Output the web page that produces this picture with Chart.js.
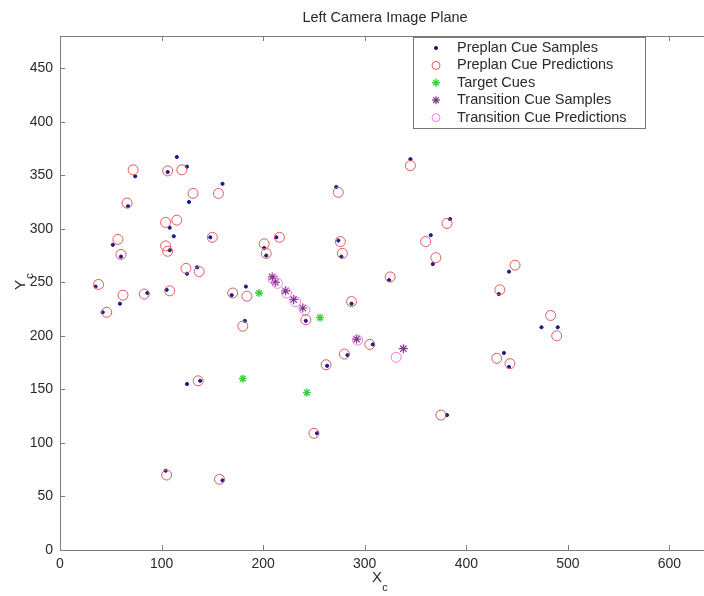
<!DOCTYPE html>
<html>
<head>
<meta charset="utf-8">
<script src="https://cdn.jsdelivr.net/npm/chart.js@4"></script>
<style>
  html, body { margin: 0; padding: 0; background: #fff; }
  #wrap { width: 704px; height: 596px; }
</style>
</head>
<body>
<div id="wrap"><canvas id="plane" width="704" height="596"></canvas></div>
<script>
// values (image plane coordinates, pixels)
var chartTitle = "Left Camera Image Plane";
var seriesNames = ["Preplan Cue Samples", "Preplan Cue Predictions", "Target Cues",
                   "Transition Cue Samples", "Transition Cue Predictions"];
var xTicks = [0, 100, 200, 300, 400, 500, 600];
var yTicks = [0, 50, 100, 150, 200, 250, 300, 350, 400, 450];

var preplanSamples = [
  [74, 349], [115, 367], [125, 358], [106, 353], [127, 325], [160, 342], [67, 321],
  [108, 301], [112, 293], [148, 292], [52, 285], [60, 274], [108, 280], [125, 258],
  [135, 264], [35, 246], [59, 230], [86, 240], [105, 243], [42, 222], [169, 238],
  [183, 246], [213, 292], [201, 282], [203, 275], [274, 289], [277, 274], [324, 252],
  [182, 214], [242, 214], [287, 230], [308, 192], [283, 182], [263, 172], [125, 155],
  [138, 158], [345, 365], [272, 339], [384, 309], [365, 294], [367, 267], [442, 260],
  [432, 239], [474, 208], [490, 208], [437, 184], [442, 171], [381, 126], [253, 109],
  [104, 74], [160, 65]
];
var preplanPredictions = [
  [72, 355], [106, 354], [120, 355], [131, 333], [156, 333], [66, 324], [104, 306],
  [115, 308], [150, 292], [57, 290], [60, 276], [104, 284], [106, 279], [124, 263],
  [137, 260], [38, 248], [62, 238], [83, 239], [108, 242], [46, 222], [170, 240],
  [184, 237], [216, 292], [201, 286], [203, 277], [276, 288], [278, 277], [325, 255],
  [180, 209], [242, 215], [287, 232], [305, 192], [280, 183], [262, 173], [136, 158],
  [345, 359], [274, 334], [381, 305], [360, 288], [370, 273], [448, 266], [433, 243],
  [483, 219], [489, 200], [430, 179], [443, 174], [375, 126], [250, 109], [105, 70],
  [157, 66]
];
var targetCues = [[196, 240], [256, 217], [180, 160], [243, 147]];
var transitionSamples = [
  [209, 255], [212, 250], [222, 242], [230, 234], [239, 226], [292, 197], [338, 188]
];
var transitionPredictions = [
  [210, 253], [214, 249], [223, 240], [232, 232], [241, 224], [293, 196], [331, 180]
];

function toPoints(list) {
  return list.map(function (p) { return { x: p[0], y: p[1] }; });
}

var FONT = "'Liberation Sans', Arial, sans-serif";

var seriesStyle = [
  { style: "circle", r: 1.6, fill: "#1c1c86", stroke: "#1c1c86", w: 1 },
  { style: "circle", r: 5, fill: "rgba(0,0,0,0)", stroke: "#e2585a", w: 1 },
  { style: "star", r: 4, fill: "#3ccf3c", stroke: "#3ccf3c", w: 1.4 },
  { style: "star", r: 4.5, fill: "#7d3b86", stroke: "#7d3b86", w: 1.2 },
  { style: "circle", r: 5, fill: "rgba(0,0,0,0)", stroke: "#ec7bec", w: 1 }
];

var allSeries = [preplanSamples, preplanPredictions, targetCues, transitionSamples, transitionPredictions];
var drawOrder = [1, 4, 0, 2, 3];

var datasets = drawOrder.map(function (i) {
  var s = seriesStyle[i];
  return {
    label: seriesNames[i],
    data: toPoints(allSeries[i]),
    pointStyle: s.style,
    pointRadius: s.r,
    pointHoverRadius: s.r,
    pointBackgroundColor: s.fill,
    pointBorderColor: s.stroke,
    pointBorderWidth: s.w,
    showLine: false
  };
});

function drawMarker(ctx, s, x, y) {
  ctx.save();
  ctx.strokeStyle = s.stroke;
  ctx.fillStyle = s.fill;
  ctx.lineWidth = s.w;
  ctx.beginPath();
  if (s.style === "circle") {
    ctx.arc(x, y, s.r, 0, Math.PI * 2);
    ctx.fill();
    ctx.stroke();
  } else {
    var r = s.r, d = r * Math.SQRT1_2;
    ctx.moveTo(x - r, y); ctx.lineTo(x + r, y);
    ctx.moveTo(x, y - r); ctx.lineTo(x, y + r);
    ctx.moveTo(x - d, y - d); ctx.lineTo(x + d, y + d);
    ctx.moveTo(x - d, y + d); ctx.lineTo(x + d, y - d);
    ctx.stroke();
  }
  ctx.restore();
}

var decorations = {
  id: "decorations",
  afterDraw: function (chart) {
    var ctx = chart.ctx, a = chart.chartArea;
    var xs = chart.scales.x, ys = chart.scales.y;
    ctx.save();

    // frame and inward ticks
    ctx.strokeStyle = "#7c7c7c";
    ctx.lineWidth = 1;
    ctx.beginPath();
    ctx.moveTo(a.left + 0.5, a.bottom + 0.5);
    ctx.lineTo(a.left + 0.5, a.top + 0.5);
    ctx.lineTo(a.right, a.top + 0.5);
    ctx.moveTo(a.left, a.bottom + 0.5);
    ctx.lineTo(a.right, a.bottom + 0.5);
    xTicks.forEach(function (v) {
      var px = Math.round(xs.getPixelForValue(v)) + 0.5;
      ctx.moveTo(px, a.bottom); ctx.lineTo(px, a.bottom - 5);
      ctx.moveTo(px, a.top); ctx.lineTo(px, a.top + 5);
    });
    yTicks.forEach(function (v) {
      var py = Math.round(ys.getPixelForValue(v)) + 0.5;
      ctx.moveTo(a.left, py); ctx.lineTo(a.left + 5, py);
    });
    ctx.stroke();

    // title
    ctx.fillStyle = "#2a2a2a";
    ctx.textAlign = "center";
    ctx.textBaseline = "middle";
    ctx.font = "14.5px " + FONT;
    ctx.fillText(chartTitle, 385, 18);

    // axis labels with subscript c
    ctx.font = "15px " + FONT;
    ctx.fillText("X", 377, 578);
    ctx.font = "11px " + FONT;
    ctx.fillText("c", 385, 588);

    ctx.save();
    ctx.translate(21, 285);
    ctx.rotate(-Math.PI / 2);
    ctx.font = "15px " + FONT;
    ctx.fillText("Y", 0, 0);
    ctx.font = "11px " + FONT;
    ctx.fillText("c", 9, 9);
    ctx.restore();

    // legend box
    var lx = 413, ly = 37, lw = 232, lh = 91;
    ctx.fillStyle = "#fff";
    ctx.fillRect(lx, ly, lw, lh);
    ctx.strokeStyle = "#777";
    ctx.strokeRect(lx + 0.5, ly + 0.5, lw, lh);
    ctx.textAlign = "left";
    ctx.font = "14.5px " + FONT;
    seriesNames.forEach(function (name, i) {
      var y = 48 + i * 17.4;
      var s = seriesStyle[i];
      var ms = { style: s.style, r: Math.min(s.r, 4), fill: s.fill, stroke: s.stroke, w: s.w };
      drawMarker(ctx, ms, 436, y);
      ctx.fillStyle = "#2a2a2a";
      ctx.fillText(name, 457, y);
    });
    ctx.restore();
  }
};

new Chart(document.getElementById("plane"), {
  type: "scatter",
  data: { datasets: datasets },
  options: {
    responsive: false,
    animation: false,
    devicePixelRatio: 1,
    layout: { autoPadding: false, padding: { top: 36, left: 0, right: 0, bottom: 0 } },
    plugins: {
      legend: { display: false },
      title: { display: false },
      tooltip: { enabled: false }
    },
    scales: {
      x: {
        type: "linear",
        min: 0,
        max: 634,
        grid: { display: false, drawTicks: false },
        border: { display: false },
        ticks: { stepSize: 100, padding: 6, color: "#2a2a2a", font: { family: FONT, size: 14 } },
        afterBuildTicks: function (s) {
          s.ticks = xTicks.map(function (v) { return { value: v }; });
        },
        afterFit: function (s) {
          s.height = 46;
          s.paddingLeft = 0;
          s.paddingRight = 0;
        }
      },
      y: {
        type: "linear",
        min: 0,
        max: 480,
        grid: { display: false, drawTicks: false },
        border: { display: false },
        ticks: { stepSize: 50, padding: 7, color: "#2a2a2a", font: { family: FONT, size: 14 } },
        afterBuildTicks: function (s) {
          s.ticks = yTicks.map(function (v) { return { value: v }; });
        },
        afterFit: function (s) {
          s.width = 60;
          s.paddingTop = 0;
          s.paddingBottom = 0;
        }
      }
    }
  },
  plugins: [decorations]
});
</script>
</body>
</html>
